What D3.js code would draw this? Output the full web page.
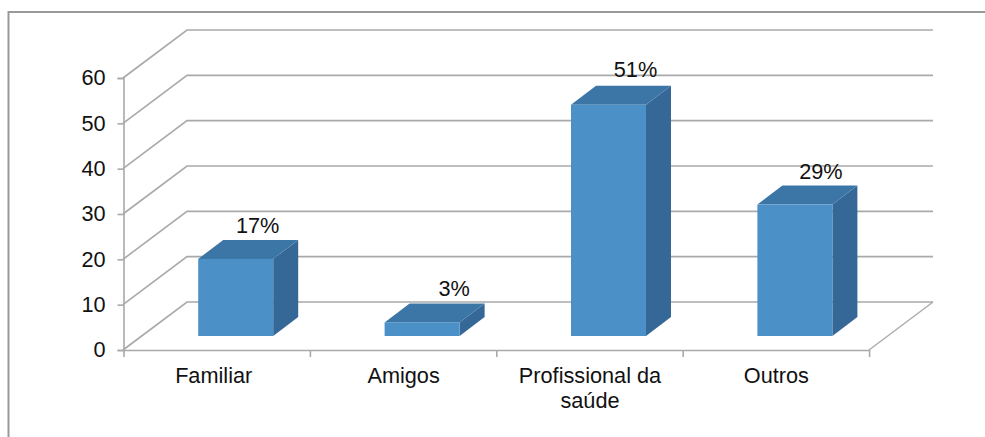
<!DOCTYPE html>
<html><head><meta charset="utf-8">
<script src="https://cdn.jsdelivr.net/npm/d3@7/dist/d3.min.js"></script>
<style>html,body{margin:0;background:#fff}svg{display:block}text{font-family:"Liberation Sans",Arial,sans-serif;fill:#111}</style>
</head><body><svg width="985" height="437"></svg>
<script>
const categories = ["Familiar","Amigos","Profissional da saúde","Outros"];
const values = [17,3,51,29];
const valueLabels = ["17%","3%","51%","29%"];
const yTicks = [0,10,20,30,40,50,60];
const grid = "#a9a9a9", fs = 21.7;
const svg = d3.select("svg");
const y = d3.scaleLinear().domain([0,60]).range([350,78]);
const x = d3.scaleBand().domain(categories).range([124,869.6]);
const depth = {dx:64, dy:-48};
const unit = (y(0)-y(1));
const bar = {lift:14, shift:18.5, w:75, dx:25, dy:-19};
const labelNudge = [22,32,27,26];
const labelRaise = [7,7,9,7];
const catNudge = [-3.5,0,0,0];

// frame
svg.append("path").attr("d","M8.5,437V12H985").attr("fill","none").attr("stroke","#999").attr("stroke-width",2);

// walls
yTicks.forEach(t=>{
  svg.append("path").attr("fill","none").attr("stroke",grid).attr("stroke-width",1.6)
    .attr("d",`M123,${y(t)}L${123+depth.dx},${y(t)+depth.dy}H933`);
});
svg.append("path").attr("fill","none").attr("stroke",grid).attr("stroke-width",1.3)
  .attr("d",`M869,350L933,${350+depth.dy}`);

// axes
const yAxis = d3.axisLeft(y).tickValues(yTicks).tickSize(6).tickPadding(12);
const gy = svg.append("g").attr("transform","translate(123.5,0)").call(yAxis);
const xAxis = d3.axisBottom(x).tickSize(0).tickFormat("").tickSizeOuter(0);
const gx = svg.append("g").attr("transform","translate(0,350)").call(xAxis);
gx.selectAll(".tick").remove();
[...categories.map(c=>x(c)), x.range()[1]].forEach(px=>{
  gx.append("line").attr("x1",px).attr("x2",px).attr("y1",0).attr("y2",7).attr("stroke",grid).attr("stroke-width",1.6);
});
[gy,gx].forEach(g=>{
  g.selectAll(".domain,.tick line").attr("stroke",grid).attr("stroke-width",1.6);
  g.selectAll("text").style("font-size",fs+"px").style("font-family",'"Liberation Sans"').attr("fill","#111");
});

// x labels
const lines = {"Profissional da saúde":["Profissional da","saúde"]};
categories.forEach((c,k)=>{
  const cx = x(c)+x.bandwidth()/2+catNudge[k];
  (lines[c]||[c]).forEach((l,i)=>svg.append("text").attr("x",cx).attr("y",383+i*25)
    .attr("text-anchor","middle").style("font-size",fs+"px").text(l));
});

// bars
const base = 350-bar.lift;
const g = svg.selectAll("g.bar").data(categories).join("g").attr("class","bar");
g.each(function(c,i){
  const s = d3.select(this), h = values[i]*unit;
  const x0 = x(c)+x.bandwidth()/2-bar.w/2+bar.shift, x1 = x0+bar.w, top = base-h;
  s.append("path").attr("fill","#356897").attr("d",`M${x1},${top}L${x1+bar.dx},${top+bar.dy}V${base+bar.dy}L${x1},${base}Z`);
  s.append("path").attr("fill","#3b76a6").attr("d",`M${x0},${top}L${x0+bar.dx},${top+bar.dy}H${x1+bar.dx}L${x1},${top}Z`);
  s.append("rect").attr("x",x0).attr("y",top).attr("width",bar.w).attr("height",h).attr("fill","#4b91c8");
  s.append("text").attr("x",x0+bar.w/2+labelNudge[i]).attr("y",top+bar.dy-labelRaise[i]).attr("text-anchor","middle").style("font-size",fs+"px").text(valueLabels[i]);
});
</script></body></html>
